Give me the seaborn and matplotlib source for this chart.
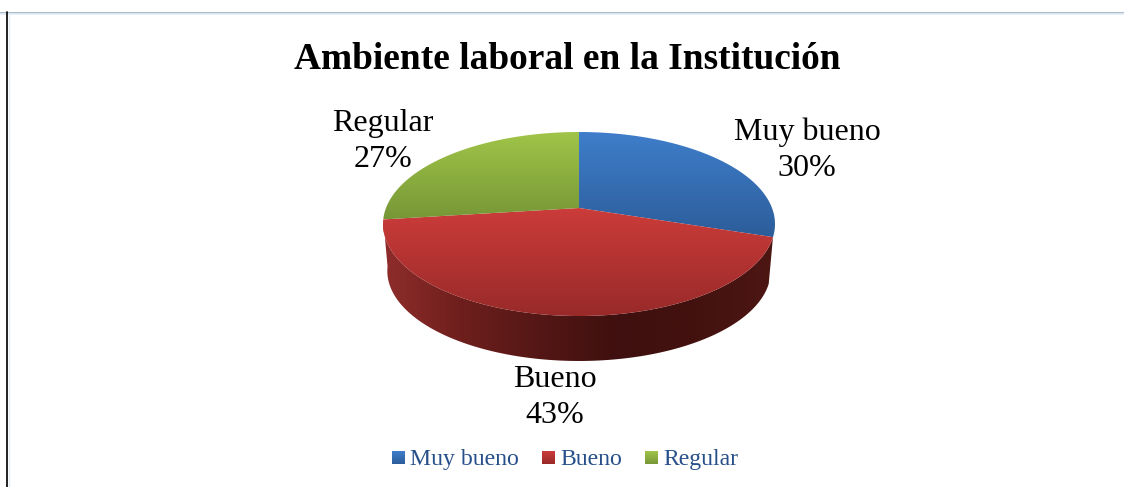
import numpy as np
import matplotlib
matplotlib.use("Agg")
import matplotlib.pyplot as plt
from matplotlib.patches import Polygon
import seaborn as sns

# data
categories = ["Muy bueno", "Bueno", "Regular"]
values = [30, 43, 27]
title = "Ambiente laboral en la Institución"

sns.set_theme(style="white")
plt.rcParams['font.family'] = ['Liberation Serif', 'DejaVu Serif']

# colours of each slice, top to bottom
top_colors = [("#3f7ecb", "#2c5d9a"), ("#cc3c3a", "#982a29"), ("#a0c548", "#779737")]
side_colors = ["#8f2d2b", "#6e1f1d", "#541715", "#3f100f", "#43120f", "#4c1613"]

fig = plt.figure(figsize=(11.24, 4.87), dpi=100)
ax = fig.add_axes([0, 0, 1, 1])
ax.set_axis_off()


# tilted pie: circle to screen pixels with some perspective
def project(deg, scale=1.0, shift=0.0):
    t = np.radians(deg)
    x, y = np.sin(t), np.cos(t)
    d = 1 + 0.174 * y
    return np.column_stack([579 + scale * 193 * x / d,
                            224 + shift - scale * (92 * y + 16) / d])


def gradient_fill(points, colors, horizontal=False):
    x0, x1 = points[:, 0].min(), points[:, 0].max()
    y0, y1 = points[:, 1].min(), points[:, 1].max()
    cmap = sns.blend_palette(colors, 256, as_cmap=True)
    g = np.linspace(0, 1, 256)
    g = g.reshape(1, -1) if horizontal else g.reshape(-1, 1)
    im = ax.imshow(g, extent=(x0, x1, y1, y0), cmap=cmap, aspect="auto",
                   interpolation="bilinear", zorder=2)
    patch = Polygon(points, closed=True, transform=ax.transData,
                    facecolor="none", edgecolor="none")
    ax.add_patch(patch)
    im.set_clip_path(patch)


# angles come from the values, clockwise from 12 o'clock
edges = np.cumsum([0] + values) * 3.6
apex = np.array([[579.0, 208.0]])

# side wall only shows under the red slice
arc = np.linspace(edges[1], edges[2], 200)
side = np.vstack([project(arc), project(arc[::-1], scale=0.978, shift=47)])
gradient_fill(side, side_colors, horizontal=True)

for i in range(len(values)):
    arc = np.linspace(edges[i], edges[i + 1], 200)
    gradient_fill(np.vstack([apex, project(arc)]), top_colors[i])

# labels
label_pos = [(807, 176), (555, 423), (383, 167)]
for cat, val, (lx, ly) in zip(categories, values, label_pos):
    ax.text(lx, ly, f"{cat}\n{val}%", fontsize=23, color="black", ha="center",
            va="baseline", multialignment="center", linespacing=1.34, zorder=3)

ax.text(567, 69, title, fontsize=26.9, fontweight="bold", color="black",
        ha="center", va="baseline", zorder=3)

# legend
swatch_x = [392, 542, 645]
for i, cat in enumerate(categories):
    sx = swatch_x[i]
    square = np.array([[sx, 451], [sx + 13, 451], [sx + 13, 464], [sx, 464]], dtype=float)
    gradient_fill(square, top_colors[i])
    ax.text(sx + 18, 465, cat, fontsize=17.1, color="#27508a", ha="left",
            va="baseline", zorder=3)

# frame left over from the screenshot
ax.plot([0, 1124], [12.5, 12.5], color="#9fb0c0", lw=1.2, zorder=1)
ax.plot([0, 1124], [14, 14], color="#e4edf6", lw=1.2, zorder=1)
ax.plot([6.5, 6.5], [12, 487], color="#101010", lw=1.3, zorder=1)
ax.plot([8.5, 8.5], [14, 487], color="#e4edf6", lw=1.0, zorder=1)

ax.set_xlim(0, 1124)
ax.set_ylim(487, 0)
fig.savefig("out.png", dpi=100)
